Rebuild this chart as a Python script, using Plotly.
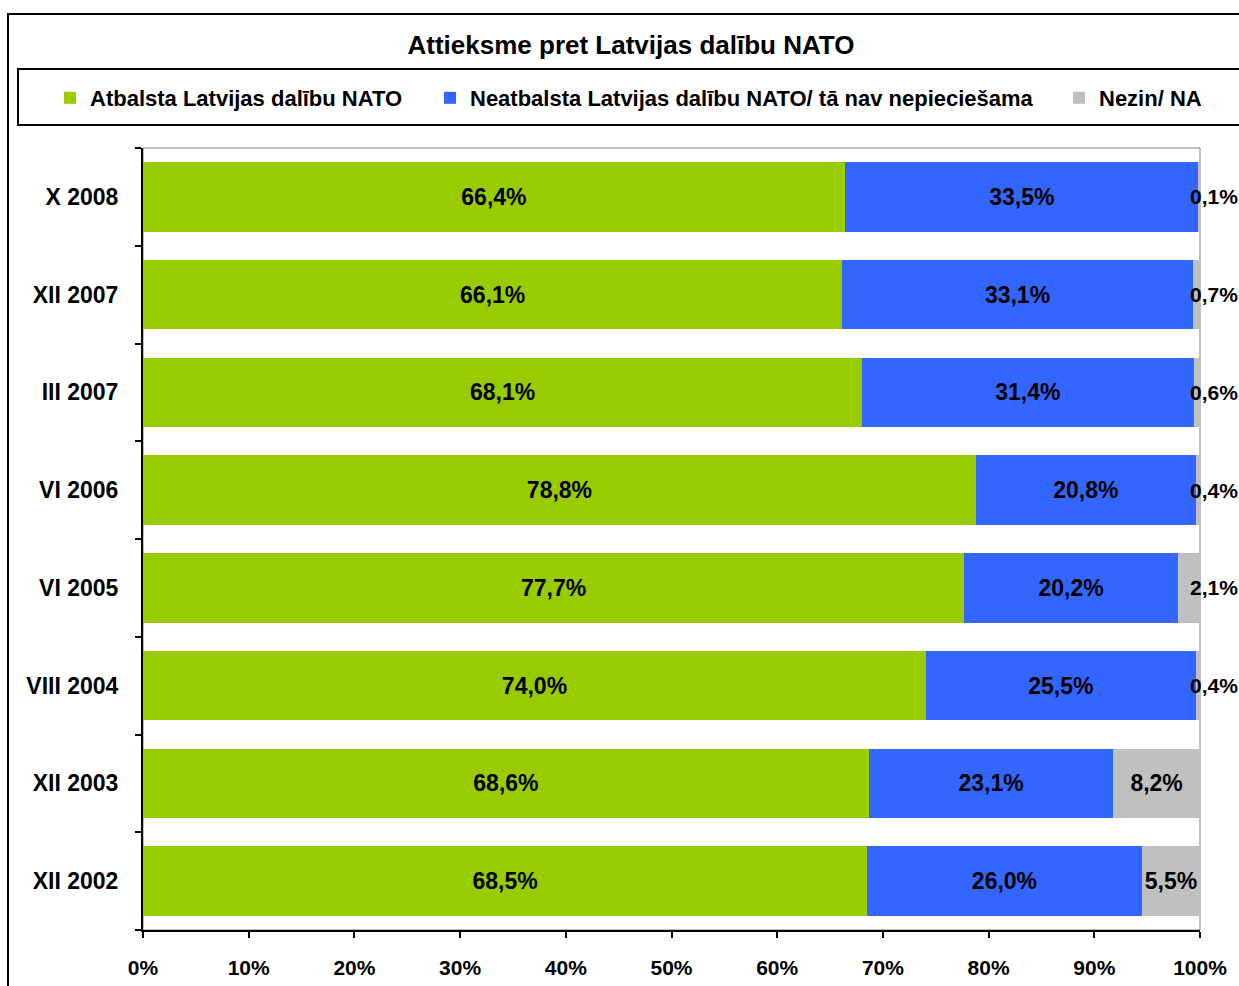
import plotly.graph_objects as go

categories = ["X 2008", "XII 2007", "III 2007", "VI 2006", "VI 2005", "VIII 2004", "XII 2003", "XII 2002"]
support = [66.4, 66.1, 68.1, 78.8, 77.7, 74.0, 68.6, 68.5]
oppose = [33.5, 33.1, 31.4, 20.8, 20.2, 25.5, 23.1, 26.0]
dontknow = [0.1, 0.7, 0.6, 0.4, 2.1, 0.4, 8.2, 5.5]

series_names = ["Atbalsta Latvijas dalību NATO",
                "Neatbalsta Latvijas dalību NATO/ tā nav nepieciešama",
                "Nezin/ NA"]
colors = ["#99CC00", "#3366FF", "#C0C0C0"]
x_ticks = list(range(0, 101, 10))
x_ticktext = [f"{t}%" for t in x_ticks]

FONT = "Liberation Sans"


def fmt(v):
    return f"{v:.1f}".replace(".", ",") + "%"


fig = go.Figure()

series = [support, oppose, dontknow]
legends = ["legend", "legend2", "legend3"]
for i, (vals, name, col) in enumerate(zip(series, series_names, colors)):
    if i < 2:
        texts = [fmt(v) for v in vals]
    else:
        texts = [fmt(v) if v >= 5 else "" for v in vals]
    fig.add_trace(go.Bar(
        y=categories, x=vals, orientation="h", name=name,
        marker=dict(color=col, line=dict(width=0)),
        text=texts, texttemplate="%{text}", textposition="inside",
        insidetextanchor="middle", textangle=0, constraintext="none",
        textfont=dict(family=FONT, size=23, color="black", weight="bold"),
        legend=legends[i], showlegend=True,
    ))

# small "don't know" labels placed to the right of the 100% line
for cat, v in zip(categories, dontknow):
    if v < 5:
        fig.add_annotation(x=100, y=cat, xref="x", yref="y", text=fmt(v),
                           showarrow=False, xanchor="left", xshift=-12,
                           font=dict(family=FONT, size=21, color="black", weight="bold"))

W, H = 1239, 986
L, R, T, B = 143, 39, 148, 56
PW, PH = W - L - R, H - T - B


def px(x):
    return (x - L) / PW


def py(y):
    return (H - B - y) / PH


legend_common = dict(orientation="h", yanchor="middle", y=py(98), xanchor="left",
                     bgcolor="rgba(0,0,0,0)", borderwidth=0, visible=True,
                     font=dict(family=FONT, size=22, color="black", weight="bold"))

fig.update_layout(
    width=W, height=H,
    margin=dict(l=L, r=R, t=T, b=B, autoexpand=False),
    paper_bgcolor="white", plot_bgcolor="white",
    showlegend=True,
    uniformtext=dict(minsize=23, mode="show"),
    barmode="stack", barnorm="percent", bargap=0.29,
    title=dict(text="Attieksme pret Latvijas dalību NATO", x=631 / W, xref="container",
               xanchor="center", y=1 - 45 / H, yref="container", yanchor="middle",
               font=dict(family=FONT, size=26, color="black", weight="bold")),
    legend=dict(x=px(50), **legend_common),
    legend2=dict(x=px(430), **legend_common),
    legend3=dict(x=px(1059), **legend_common),
    xaxis=dict(range=[0, 100], tickvals=x_ticks, ticktext=x_ticktext, showgrid=False,
               zeroline=False, showline=True, linecolor="black", linewidth=2,
               ticks="outside", ticklen=6, tickwidth=2, tickcolor="black",
               ticklabelstandoff=12, automargin=False,
               tickfont=dict(family=FONT, size=21, color="black", weight="bold")),
    yaxis=dict(categoryorder="array", categoryarray=categories[::-1], showgrid=False,
               showline=True, linecolor="black", linewidth=2,
               ticks="outside", ticklen=6, tickwidth=2, tickcolor="black",
               tickson="boundaries", ticklabelstandoff=18, automargin=False,
               tickfont=dict(family=FONT, size=23, color="black", weight="bold")),
    shapes=[
        dict(type="rect", xref="paper", yref="paper", x0=0, x1=1, y0=0, y1=1,
             line=dict(color="#808080", width=1), layer="below"),
        dict(type="rect", xref="paper", yref="paper", x0=px(8), x1=px(1270),
             y0=py(1010), y1=py(14), line=dict(color="black", width=2)),
        dict(type="rect", xref="paper", yref="paper", x0=px(18), x1=px(1270),
             y0=py(125), y1=py(69), line=dict(color="black", width=2)),
    ],
)

fig.write_html("out.html", config={"displayModeBar": False},
               post_script="document.body.style.margin='0';")
